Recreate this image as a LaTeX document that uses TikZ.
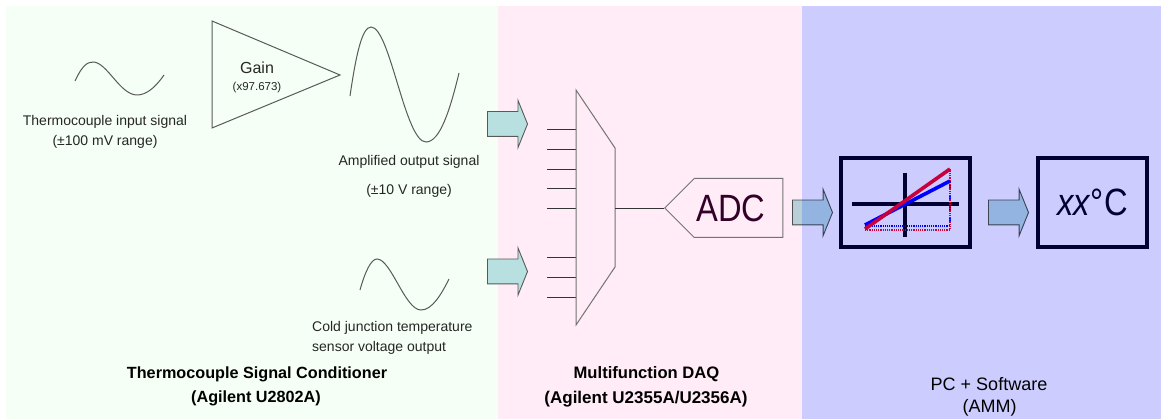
\documentclass[tikz,border=0pt]{standalone}
\usepackage{fontspec}
\setmainfont{Liberation Sans}
\usetikzlibrary{shapes.arrows, shapes.symbols}
\definecolor{condbg}{HTML}{F5FFF5}
\definecolor{daqbg}{HTML}{FFECF6}
\definecolor{pcbg}{HTML}{CCCCFF}
\definecolor{navy}{HTML}{000033}
\definecolor{redline}{HTML}{C8003C}
\definecolor{arrowfill}{HTML}{B8E0E0}
\tikzset{
  wave/.style={draw=black!65, line width=1pt},
  small/.style={font=\fontsize{14}{14}\selectfont, text=black!85, inner sep=0pt},
  heading/.style={font=\fontsize{#1}{#1}\selectfont\bfseries, inner sep=0pt},
  heading/.default=16.2,
  stub/.style={draw=black!80, line width=0.9pt},
  mux/.style={draw=black!55, line width=1pt},
  blockarrow/.style={single arrow, draw=black!65, line width=0.9pt, fill=arrowfill,
    minimum height=40pt, single arrow head extend=11pt, single arrow tip angle=136,
    inner xsep=0pt, inner ysep=12pt, minimum width=0pt},
  pcbox/.style={draw=navy, line width=4.4pt, minimum height=89pt, inner sep=0pt},
  dotline/.style={densely dotted, line width=1.2pt},
}
\begin{document}
\begin{tikzpicture}[x=1pt, y=-1pt]
  \useasboundingbox (0,0) rectangle (1161,419);
  \fill[white] (0,0) rectangle (1161,419);
  \fill[condbg] (6,6) rectangle (498,419);
  \fill[daqbg] (498,6) rectangle (802,419);
  \fill[pcbg] (802,6) rectangle (1161,419);
  % signal conditioner
  \draw[wave] (75,81) .. controls (82,66) and (87,62) .. (93,62) .. controls (107,62) and (120,95) .. (137,95) .. controls (146,95) and (155,88) .. (164,75);
  \draw[wave] (350,96) .. controls (356,55) and (362,27) .. (371,27) .. controls (390,27) and (405,142) .. (426,142) .. controls (440,142) and (450,110) .. (459,73);
  \draw[wave] (360,290) .. controls (365,272) and (371,259) .. (377,259) .. controls (391,259) and (405,310) .. (421,310) .. controls (432,310) and (441,295) .. (449,279);
  \coordinate (gainA) at (212,21);
  \coordinate (gainB) at (340,75);
  \coordinate (gainC) at (212,128);
  \draw[wave] (gainA) -- (gainB) -- (gainC) -- cycle;
  \node[small, font=\fontsize{16}{16}\selectfont] (gain) at (257,68) {Gain};
  \node[small, font=\fontsize{11.5}{11.5}\selectfont] (gainval) at (257,88) {(x97.673)};
  \node[small] (inlabel) at (105,121.5) {Thermocouple input signal};
  \node[small] (inrange) at (105,142) {(±100 mV range)};
  \node[small] (outlabel) at (409,161.5) {Amplified output signal};
  \node[small] (outrange) at (409,191) {(±10 V range)};
  \node[small, anchor=west] (coldlabel) at (312,328) {Cold junction temperature};
  \node[small, anchor=west] (coldlabelb) at (312,348) {sensor voltage output};
  \node[heading] (condname) at (257,374) {Thermocouple Signal Conditioner};
  \node[heading] (condtype) at (256,398) {(Agilent U2802A)};
  % DAQ
  \coordinate (muxA) at (576,90);
  \coordinate (muxB) at (615,148);
  \coordinate (muxC) at (615,267);
  \coordinate (muxD) at (576,325);
  \coordinate (muxout) at (615,208);
  \foreach \n/\y in {1/129,2/149,3/169,4/188,5/208,6/257,7/277,8/297}{
    \coordinate (stub\n) at (547,\y);
    \coordinate (muxin\n) at (576,\y);
    \draw[stub] (stub\n) -- (muxin\n);
  }
  \draw[mux] (muxA) -- (muxB) -- (muxC) -- (muxD) -- cycle;
  \node[signal, signal to=west, signal pointer angle=90, draw=black!55, line width=1pt,
        minimum width=118pt, minimum height=59pt, inner sep=0pt, text=navy!80!red,
        font=\fontsize{38}{38}\selectfont] (adc) at (738.5,208) {\scalebox{0.86}[1]{ADC}\kern15pt};
  \draw[stub] (muxout) -- (adc.west);
  \node[heading=16.6] (daqname) at (646.5,374) {Multifunction DAQ};
  \node[heading=17] (daqtype) at (646,399) {(Agilent U2355A/U2356A)};
  % block arrows
  \node[blockarrow] (arrowa) at (505,124) {};
  \node[blockarrow] (arrowb) at (505,271.5) {};
  \begin{scope}[blend mode=multiply]
    \node[blockarrow] (arrowc) at (810,212.5) {};
    \node[blockarrow] (arrowd) at (1006,212.5) {};
  \end{scope}
  % PC
  \node[pcbox, minimum width=129pt] (plotbox) at (905.5,202.5) {};
  \node[pcbox, minimum width=109pt, text=navy, font=\fontsize{38}{38}\selectfont] (readout) at (1092.5,202.5)
    {\scalebox{0.86}[1]{\textit{xx}°C}};
  \draw[navy, line width=3.6pt] (852,204) -- (959,204);
  \draw[navy, line width=3.6pt] (905,173) -- (905,237);
  \draw[blue, dotline] (865,226) -- (950,226) -- (950,181);
  \draw[redline, dotline] (865,230) -- (950,230) -- (950,169);
  \draw[blue, line width=3.6pt] (865,225) -- (950,181);
  \draw[redline, line width=3.6pt] (865,229) -- (950,169);
  \node[small, font=\fontsize{18}{18}\selectfont, text=black] (pcname) at (989,384) {PC + Software};
  \node[small, font=\fontsize{18}{18}\selectfont, text=black] (pctype) at (989.5,408) {(AMM)};
\end{tikzpicture}
\end{document}
